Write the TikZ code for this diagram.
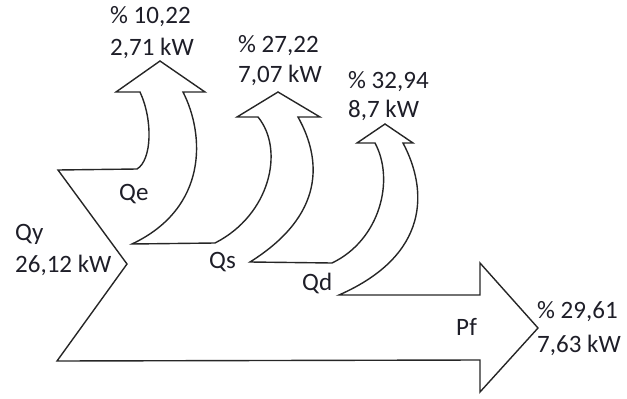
\documentclass[tikz,border=0pt]{standalone}
\usepackage{fontspec}
\setmainfont{Carlito}
\definecolor{txt}{RGB}{30,30,40}
\begin{document}
\begin{tikzpicture}[x=1pt,y=-1pt,
  outline/.style={draw=black!85,line width=1.4pt,line join=miter},
  lbl/.style={inner sep=0pt,anchor=base west,text=txt,font=\fontsize{25}{30}\selectfont}]
\useasboundingbox (0,0) rectangle (627,399);
% Sankey outline
\draw[outline]
  (58,170) -- (137,169)
  .. controls (152,160) and (153,120) .. (140,92)
  -- (116,92) -- (160,61) -- (205,92) -- (183,92)
  .. controls (205,135) and (208,208) .. (132,244)
  -- (215,243)
  .. controls (270,215) and (285,150) .. (258,117)
  -- (237,117) -- (278,92) -- (320,117) -- (298,117)
  .. controls (322,160) and (325,215) .. (250,262)
  -- (332,263)
  .. controls (380,240) and (395,180) .. (375,143)
  -- (357,143) -- (385,124) -- (413,143) -- (403,143)
  .. controls (428,190) and (430,255) .. (339,295)
  -- (480,295) -- (480,263) -- (538,328) -- (480,392) -- (480,360)
  -- (57,361) -- (127,264) -- cycle;
% labels
\node[lbl] (e1) at (110,23) {\% 10,22};
\node[lbl] (e2) at (110,55) {2,71 kW};
\node[lbl] (s1) at (238,52) {\% 27,22};
\node[lbl] (s2) at (238,82) {7,07 kW};
\node[lbl] (d1) at (348,88) {\% 32,94};
\node[lbl] (d2) at (348,117) {8,7 kW};
\node[lbl] (f1) at (537,318) {\% 29,61};
\node[lbl] (f2) at (537,352) {7,63 kW};
\node[lbl] (y1) at (15,240) {Qy};
\node[lbl] (y2) at (15,272) {26,12 kW};
\node[lbl] (qe) at (119,200) {Qe};
\node[lbl] (qs) at (209,268) {Qs};
\node[lbl] (qd) at (302,290) {Qd};
\node[lbl] (pf) at (456,335) {Pf};
\end{tikzpicture}
\end{document}
